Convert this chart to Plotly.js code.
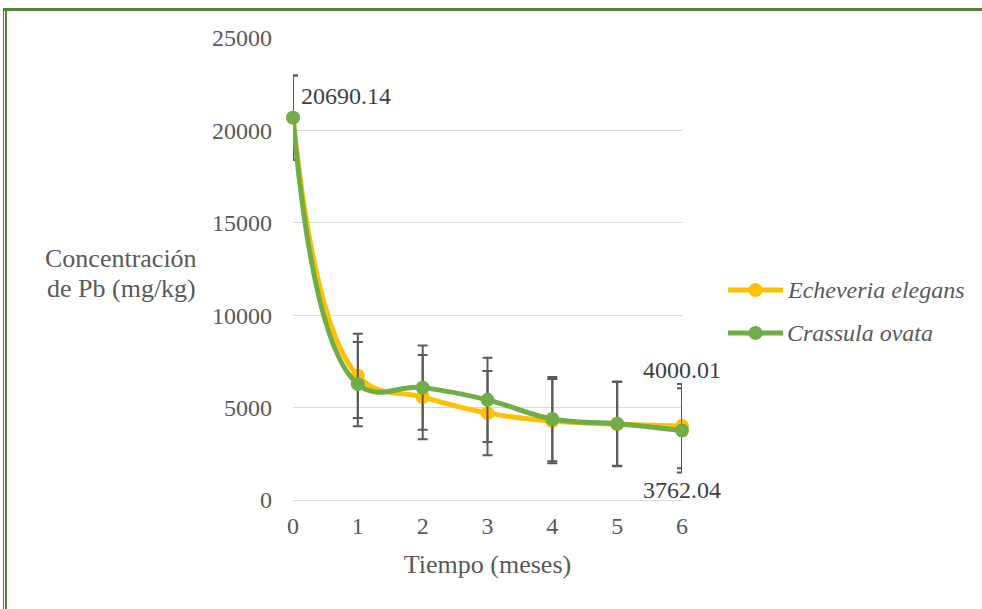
<!DOCTYPE html>
<html>
<head>
<meta charset="utf-8">
<script src="https://cdn.plot.ly/plotly-3.0.1.min.js"></script>
<style>
html,body{margin:0;padding:0;background:#fff;}
#wrap{position:relative;width:982px;height:609px;overflow:hidden;}
#chart{position:absolute;left:0;top:0;width:982px;height:609px;}
#btop{position:absolute;left:3px;top:8px;width:979px;height:3px;background:#548235;}
#bl1{position:absolute;left:3px;top:8px;width:1px;height:601px;background:#548235;}
#bl2{position:absolute;left:5px;top:8px;width:2px;height:601px;background:#548235;}
</style>
</head>
<body>
<div id="wrap">
<div id="chart"></div>
<div id="btop"></div><div id="bl1"></div><div id="bl2"></div>
</div>
<script>
const months = [0, 1, 2, 3, 4, 5, 6];
const echeveria = [20690.14, 6720, 5570, 4700, 4270, 4110, 4000.01];
const crassula = [20690.14, 6270, 6080, 5420, 4380, 4130, 3762.04];
const echeveriaErr = [2280, 2280, 2280, 2280, 2280, 2280, 2280];
const crassulaErr = [2280, 2280, 2280, 2280, 2280, 2280, 2280];
const seriesNames = ["Echeveria elegans", "Crassula ovata"];
const seriesColors = ["#FFC000", "#70AD47"];
const yTicks = [0, 5000, 10000, 15000, 20000, 25000];

const serif = "Liberation Serif";
const txt = "#595959";
const errStyle = (arr) => ({type: "data", array: arr, visible: true, color: "#595959", thickness: 2, width: 5});

const traces = [
  {x: months, y: echeveria, name: seriesNames[0], mode: "lines+markers", showlegend: false,
   line: {color: seriesColors[0], width: 5, shape: "spline", smoothing: 1.2},
   marker: {color: seriesColors[0], size: 14}, error_y: errStyle(echeveriaErr), cliponaxis: false},
  {x: months, y: crassula, name: seriesNames[1], mode: "lines+markers", showlegend: false,
   line: {color: seriesColors[1], width: 5, shape: "spline", smoothing: 1.2},
   marker: {color: seriesColors[1], size: 14}, error_y: errStyle(crassulaErr), cliponaxis: false}
];

// custom legend (paper coords of plot area 293..682 x, 38..500 y)
const pxX = (px) => (px - 293) / 389;
const pxY = (py) => (500 - py) / 462;
const legendRows = [290, 333];
const shapes = [];
const legendAnn = [];
seriesNames.forEach((nm, i) => {
  const yy = pxY(legendRows[i]);
  shapes.push({type: "line", xref: "paper", yref: "paper", x0: pxX(728), x1: pxX(783), y0: yy, y1: yy,
               line: {color: seriesColors[i], width: 5}});
  shapes.push({type: "circle", xref: "paper", yref: "paper", x0: pxX(748.5), x1: pxX(762.5), y0: yy - 7/462, y1: yy + 7/462,
               fillcolor: seriesColors[i], line: {width: 0}});
  legendAnn.push({xref: "paper", yref: "paper", x: pxX(785), y: yy, text: "<i>" + nm + "</i>", showarrow: false,
                  xanchor: "left", yanchor: "middle", font: {family: serif, size: 24, color: txt}});
});

const last = months.length - 1;
const layout = {
  width: 982, height: 609,
  margin: {l: 293, r: 300, t: 38, b: 109},
  paper_bgcolor: "#fff", plot_bgcolor: "#fff",
  font: {family: serif, size: 24, color: txt},
  showlegend: false,
  shapes: shapes,
  xaxis: {range: [0, 6], tickvals: months, ticktext: months.map(String), showgrid: false, zeroline: false,
          showline: true, linecolor: "#d9d9d9", linewidth: 1, ticks: "", ticklabelstandoff: 4,
          tickfont: {family: serif, size: 24, color: txt},
          title: {text: "Tiempo (meses)", font: {family: serif, size: 26, color: txt}, standoff: 17}},
  yaxis: {range: [0, 25000], tickvals: yTicks, ticktext: yTicks.map(String), showgrid: true, gridcolor: "#d9d9d9", gridwidth: 1,
          zeroline: false, showline: false, ticks: "", ticklabelstandoff: 20,
          tickfont: {family: serif, size: 24, color: txt}},
  annotations: [
    {xref: "paper", yref: "paper", x: pxX(121), y: pxY(258), text: "Concentración", showarrow: false,
     font: {family: serif, size: 26, color: txt}, xanchor: "center", yanchor: "middle"},
    {xref: "paper", yref: "paper", x: pxX(121), y: pxY(288), text: "de Pb (mg/kg)", showarrow: false,
     font: {family: serif, size: 26, color: txt}, xanchor: "center", yanchor: "middle"},
    {xref: "x", yref: "y", x: months[0], y: crassula[0], text: crassula[0].toFixed(2), showarrow: false,
     xanchor: "left", yanchor: "middle", xshift: 6, yshift: 22, font: {family: serif, size: 24, color: "#404040"}},
    {xref: "x", yref: "y", x: months[last], y: echeveria[last], text: echeveria[last].toFixed(2), showarrow: false,
     xanchor: "center", yanchor: "middle", xshift: 0, yshift: 56, font: {family: serif, size: 24, color: "#404040"}},
    {xref: "x", yref: "y", x: months[last], y: crassula[last], text: crassula[last].toFixed(2), showarrow: false,
     xanchor: "center", yanchor: "middle", xshift: 0, yshift: -60, font: {family: serif, size: 24, color: "#404040"}}
  ].concat(legendAnn)
};

Plotly.newPlot("chart", traces, layout, {displayModeBar: false, staticPlot: true});
</script>
</body>
</html>
